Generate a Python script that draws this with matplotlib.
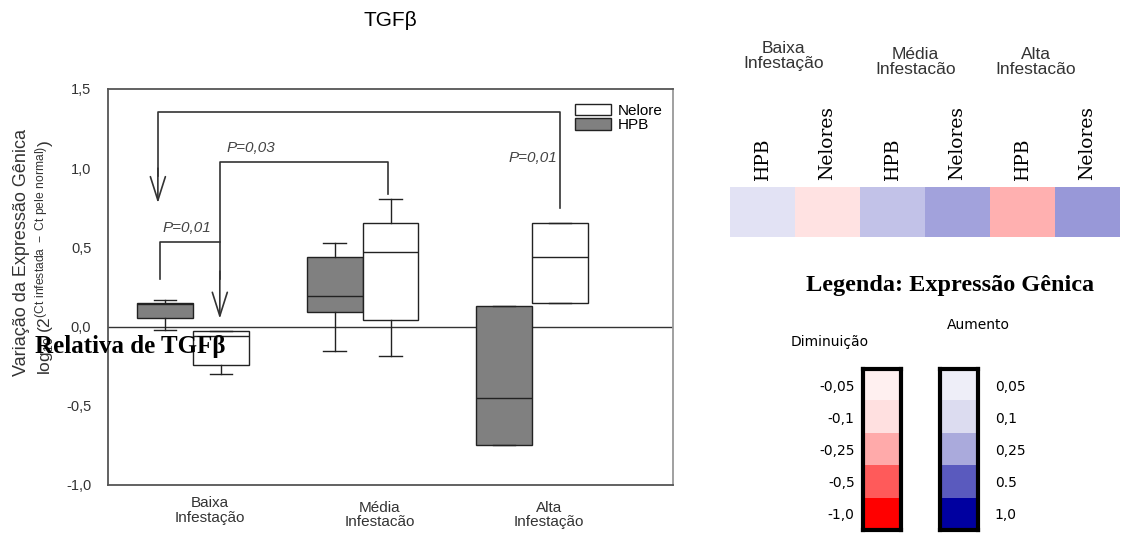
import numpy as np
import matplotlib
matplotlib.use('Agg')
import matplotlib.pyplot as plt
from matplotlib.patches import Patch
from matplotlib.colors import ListedColormap, LinearSegmentedColormap
import matplotlib.transforms as mtrans

plt.rcParams['font.family'] = ['Liberation Sans', 'DejaVu Sans']
plt.rcParams['mathtext.fontset'] = 'custom'
plt.rcParams['mathtext.rm'] = 'Liberation Sans'
plt.rcParams['mathtext.it'] = 'Liberation Sans:italic'

# boxplot data
groups = ['Baixa\nInfestação', 'Média\nInfestacão', 'Alta\nInfestação']
hpb_q1 = [0.057, 0.095, -0.747]
hpb_med = [0.145, 0.196, -0.449]
hpb_q3 = [0.15, 0.437, 0.127]
hpb_lo = [-0.02, -0.152, -0.747]
hpb_hi = [0.17, 0.525, 0.127]
nel_q1 = [-0.245, 0.044, 0.152]
nel_med = [-0.057, 0.468, 0.437]
nel_q3 = [-0.025, 0.652, 0.652]
nel_lo = [-0.30, -0.184, 0.152]
nel_hi = [-0.025, 0.804, 0.652]

# heatmap
heat_labels = ['HPB', 'Nelores', 'HPB', 'Nelores', 'HPB', 'Nelores']
heat_values = [0.11, -0.11, 0.24, 0.365, -0.31, 0.40]
heat_groups = ['Baixa\nInfestação', 'Média\nInfestacão', 'Alta\nInfestacão']

# legend scales
dim_labels = ['-0,05', '-0,1', '-0,25', '-0,5', '-1,0']
dim_colors = ['#FFF0F0', '#FFE0E0', '#FFAAAA', '#FF5A5A', '#FF0000']
aum_labels = ['0,05', '0,1', '0,25', '0.5', '1,0']
aum_colors = ['#EEEEF8', '#DCDCF0', '#AAAADC', '#5A5ABE', '#0000A0']

fig = plt.figure(figsize=(11.22, 5.34), dpi=100)
ax = fig.add_axes([108/1122, 49/534, 565/1122, 396/534])

pos = np.arange(1, 4)
w = 0.33

def stats(q1, med, q3, lo, hi):
    return [dict(q1=q1[i], med=med[i], q3=q3[i], whislo=lo[i], whishi=hi[i], fliers=[])
            for i in range(len(q1))]

for st, off, fc in [(stats(hpb_q1, hpb_med, hpb_q3, hpb_lo, hpb_hi), -w/2, '#808080'),
                    (stats(nel_q1, nel_med, nel_q3, nel_lo, nel_hi), w/2, 'white')]:
    ax.bxp(st, positions=pos + off, widths=w, capwidths=0.13, patch_artist=True, showfliers=False,
           boxprops=dict(facecolor=fc, edgecolor='#222222', linewidth=1),
           medianprops=dict(color='#222222', linewidth=1),
           whiskerprops=dict(color='#222222', linewidth=1),
           capprops=dict(color='#222222', linewidth=1))

ax.axhline(0, color='#333333', lw=1, zorder=0)
ax.set_xlim(0.5, 3.83)
ax.set_ylim(-1.0, 1.5)
ax.set_yticks([-1.0, -0.5, 0.0, 0.5, 1.0, 1.5])
ax.set_yticklabels(['-1,0', '-0,5', '0,0', '0,5', '1,0', '1,5'], fontsize=10.5, color='#333333')
ax.tick_params(axis='y', length=0, pad=12)
ax.set_xticks([])
for s in ax.spines.values():
    s.set_color('#555555')
    s.set_linewidth(1.3)
ax.spines['right'].set_color('#999999')

trans = mtrans.blended_transform_factory(ax.transData, ax.transAxes)
for i, g in enumerate(groups):
    ax.text(pos[i] + 0.1, -0.028 - (0.012 if i > 0 else 0), g, transform=trans,
            ha='center', va='top', fontsize=11, color='#333333', linespacing=1.05)

# significance brackets
lc = '#333333'
ax.plot([0.794, 0.794, 3.165, 3.165], [0.95, 1.354, 1.354, 0.747], color=lc, lw=1.2)
ax.plot([1.159, 1.159, 2.153, 2.153], [0.3, 1.04, 1.04, 0.84], color=lc, lw=1.2)
ax.plot([0.806, 0.806, 1.159], [0.30, 0.537, 0.537], color=lc, lw=1.2)
arrow = dict(arrowstyle='->,head_length=0.85,head_width=0.27', color=lc, lw=1.2,
             shrinkA=0, shrinkB=0, mutation_scale=20)
ax.annotate('', xy=(0.794, 0.78), xytext=(0.794, 1.0), arrowprops=arrow)
ax.annotate('', xy=(1.159, 0.05), xytext=(1.159, 0.35), arrowprops=arrow)
ax.text(1.20, 1.127, 'P=0,03', style='italic', fontsize=11, color='#444444', va='center')
ax.text(0.82, 0.62, 'P=0,01', style='italic', fontsize=11, color='#444444', va='center')
ax.text(2.86, 1.063, 'P=0,01', style='italic', fontsize=11, color='#444444', va='center')

handles = [Patch(facecolor='white', edgecolor='#222222', label='Nelore'),
           Patch(facecolor='#808080', edgecolor='#222222', label='HPB')]
ax.legend(handles=handles, loc='upper right', bbox_to_anchor=(1.0, 0.99), frameon=False,
          fontsize=11, handlelength=2.4, handleheight=0.75, labelspacing=0.05,
          handletextpad=0.4, borderaxespad=0.3)

fig.text(390/1122, 1 - 20/534, 'TGFβ', ha='center', va='center', fontsize=15)
fig.text(22/1122, 1 - 253/534, 'Variação da Expressão Gênica', rotation=90,
         ha='center', va='center', fontsize=13, color='#333333')
fig.text(45/1122, 1 - 258/534,
         r'log$_{10}$ (2$^{\mathrm{(Ct\ infestada\ -\ Ct\ pele\ normal)}}$)',
         rotation=90, ha='center', va='center', fontsize=12.5, color='#333333')
fig.text(35/1122, 1 - 347/534, 'Relativa de TGFβ', ha='left', va='center',
         fontsize=18, fontweight='bold', family=['Liberation Serif', 'DejaVu Serif'])

# heatmap
hax = fig.add_axes([730/1122, 1 - 237/534, 390/1122, 50/534])
cmap = LinearSegmentedColormap.from_list('rb', ['#FF0000', '#FFFFFF', '#0000A0'])
hax.imshow(np.array([heat_values]), cmap=cmap, vmin=-1, vmax=1, aspect='auto')
hax.set_xticks([])
hax.set_yticks([])
for s in hax.spines.values():
    s.set_visible(False)
htrans = mtrans.blended_transform_factory(hax.transData, hax.transAxes)
for i, lab in enumerate(heat_labels):
    hax.text(i, 1.13, lab, transform=htrans, rotation=90, ha='center', va='bottom',
             fontsize=13.5, family=['DejaVu Serif'])
for x, yy, g in zip([0.32, 2.35, 4.2], [3.62, 3.5, 3.5], heat_groups):
    hax.text(x, yy, g, transform=htrans, ha='center', va='center', fontsize=12.5,
             color='#333333', linespacing=1.0)

fig.text(950/1122, 1 - 285/534, 'Legenda: Expressão Gênica', ha='center', va='center',
         fontsize=17.5, fontweight='bold', family=['Liberation Serif', 'DejaVu Serif'])
fig.text(830/1122, 1 - 342/534, 'Diminuição', ha='center', va='center', fontsize=10,
         family=['DejaVu Sans'])
fig.text(978/1122, 1 - 325/534, 'Aumento', ha='center', va='center', fontsize=10,
         family=['DejaVu Sans'])

for left, labs, cols, side in [(863, dim_labels, dim_colors, 'left'),
                               (940, aum_labels, aum_colors, 'right')]:
    cax = fig.add_axes([left/1122, 4/534, 38/1122, 161/534])
    cax.imshow(np.arange(5).reshape(5, 1), cmap=ListedColormap(cols), aspect='auto')
    cax.set_xticks([])
    cax.set_yticks(range(5))
    cax.set_yticklabels(labs, fontsize=10, family=['DejaVu Sans'])
    if side == 'right':
        cax.yaxis.tick_right()
        cax.tick_params(axis='y', length=0, pad=12)
    else:
        cax.tick_params(axis='y', length=0, pad=6)
    for s in cax.spines.values():
        s.set_linewidth(3)
        s.set_color('black')

fig.savefig('out.png', dpi=100)
